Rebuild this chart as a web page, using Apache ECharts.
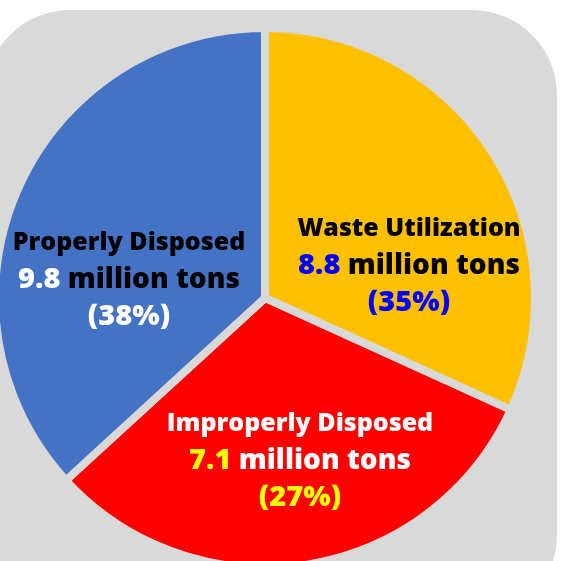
<!DOCTYPE html>
<html>
<head>
<meta charset="utf-8">
<script src="https://cdn.jsdelivr.net/npm/echarts@6/dist/echarts.min.js"></script>
<style>
  html, body { margin: 0; padding: 0; background: #fff; }
  #main { width: 561px; height: 561px; }
</style>
</head>
<body>
<div id="main"></div>
<script>
// 数据
var categories = ['Waste Utilization', 'Improperly Disposed', 'Properly Disposed'];
var amounts = ['8.8', '7.1', '9.8']; // million tons
var percents = [35, 27, 38];
// 扇区大小（按图上的角度估读）
var sliceShare = [31.8, 31.4, 36.8];

var colors = ['#FFC000', '#FF0000', '#4472C4'];
// 每个标签的文字颜色：标题 / 数字 / 百分比
var textColors = [
  { head: '#000', num: '#0000FF', pct: '#0000FF' },
  { head: '#fff', num: '#FFFF00', pct: '#FFFF00' },
  { head: '#000', num: '#fff', pct: '#fff' }
];
// 标签中心位置
var labelPos = [[409, 266], [300, 461], [129, 280]];

var fontFamily = 'Open Sans';

function txt(color, size) {
  return { color: color, fontSize: size, fontWeight: 800, fontFamily: fontFamily, lineHeight: 37 };
}

var seriesData = categories.map(function (name, i) {
  var tc = textColors[i];
  var mtColor = i === 1 ? '#fff' : '#000';
  return {
    name: name,
    value: sliceShare[i],
    itemStyle: { color: colors[i] },
    label: {
      formatter: '{h|' + name + '}\n{n|' + amounts[i] + '}{m| million tons}\n{p|(' + percents[i] + '%)}',
      rich: {
        h: txt(tc.head, 25),
        n: txt(tc.num, 29),
        m: txt(mtColor, 28),
        p: txt(tc.pct, 29)
      }
    }
  };
});

var myChart = echarts.init(document.getElementById('main'));

var option = {
  animation: false,
  graphic: [{
    type: 'rect',
    z: -10,
    shape: { x: -15, y: 10, width: 572, height: 610, r: 85 },
    style: { fill: '#D9D9D9' }
  }],
  series: [{
    type: 'pie',
    center: [265, 298],
    radius: 270,
    startAngle: 90,
    clockwise: true,
    itemStyle: { borderColor: '#D9D9D9', borderWidth: 8 },
    label: { show: true, position: 'inside', align: 'center' },
    labelLine: { show: false },
    labelLayout: function (params) {
      var p = labelPos[params.dataIndex];
      return { x: p[0], y: p[1], align: 'center', verticalAlign: 'middle' };
    },
    emphasis: { disabled: true },
    data: seriesData
  }]
};

myChart.setOption(option);
</script>
</body>
</html>
